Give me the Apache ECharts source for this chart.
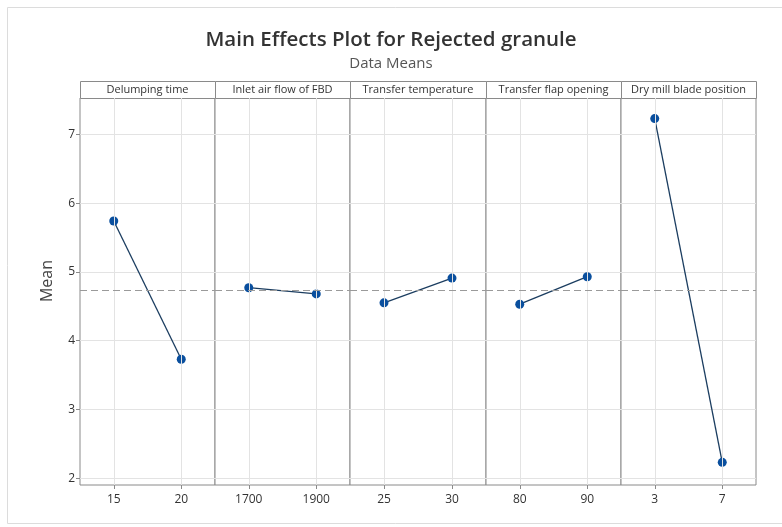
<!DOCTYPE html>
<html><head><meta charset="utf-8">
<script src="https://cdn.jsdelivr.net/npm/echarts@6/dist/echarts.min.js"></script>
<style>html,body{margin:0;padding:0;background:#fff}#c{width:782px;height:527px}</style>
</head><body><div id="c"></div>
<script>
// ---- data ----
const factorNames = ['Delumping time', 'Inlet air flow of FBD', 'Transfer temperature', 'Transfer flap opening', 'Dry mill blade position'];
const delumpingLevels = ['15', '20'];
const inletLevels = ['1700', '1900'];
const tempLevels = ['25', '30'];
const flapLevels = ['80', '90'];
const bladeLevels = ['3', '7'];
const delumpingMeans = [5.74, 3.73];
const inletMeans = [4.77, 4.68];
const tempMeans = [4.55, 4.91];
const flapMeans = [4.53, 4.93];
const bladeMeans = [7.23, 2.23];
const grandMean = 4.73;
const yTicks = [2, 3, 4, 5, 6, 7];

const levelsList = [delumpingLevels, inletLevels, tempLevels, flapLevels, bladeLevels];
const meansList = [delumpingMeans, inletMeans, tempMeans, flapMeans, bladeMeans];

// ---- layout ----
const plotLeft = 80, plotRight = 756, headerTop = 81, plotTop = 98, plotBottom = 485, H = 527;
const n = factorNames.length;
const pw = (plotRight - plotLeft) / n;
const frameColor = '#8a8a8a';
const gridColor = '#e3e3e3';
const font = 'Open Sans, Noto Sans, sans-serif';

const grids = [], xAxes = [], yAxes = [], series = [], graphics = [];

graphics.push({type: 'rect', silent: true, z: -10,
  shape: {x: 7.5, y: 7.5, width: 800, height: 516},
  style: {fill: '#fff', stroke: '#dcdcdc', lineWidth: 1}});

for (let i = 0; i < n; i++) {
  const left = Math.round(plotLeft + i * pw);
  const right = Math.round(plotLeft + (i + 1) * pw);
  grids.push({left: left, width: right - left, top: plotTop, bottom: H - plotBottom,
    show: true, borderColor: frameColor, borderWidth: 1, backgroundColor: '#fff'});
  xAxes.push({type: 'category', gridIndex: i, data: levelsList[i], boundaryGap: true,
    axisLine: {show: false},
    axisTick: {show: true, alignWithLabel: true, length: 4, lineStyle: {color: frameColor}},
    axisLabel: {color: '#333', fontSize: 12, fontFamily: font, margin: 9},
    splitLine: {show: false}});
  yAxes.push({type: 'value', gridIndex: i, min: 1.9, max: 7.53,
    axisLine: {show: false},
    axisTick: {show: i === 0, length: 4, customValues: yTicks, lineStyle: {color: frameColor}},
    axisLabel: {show: i === 0, customValues: yTicks, color: '#333', fontSize: 12, fontFamily: font, margin: 5},
    splitLine: {show: true, lineStyle: {color: gridColor, width: 1}}});
  // vertical gridlines and grand-mean line
  series.push({type: 'line', xAxisIndex: i, yAxisIndex: i, data: [], z: 1, silent: true,
    markLine: {silent: true, symbol: ['none', 'none'], label: {show: false}, animation: false,
      data: levelsList[i].map(l => ({xAxis: l, lineStyle: {color: gridColor, width: 1, type: 'solid'}})).concat([
        {yAxis: grandMean, lineStyle: {color: '#9a9a9a', width: 1.2, type: [7, 4]}}])}});
  series.push({type: 'line', xAxisIndex: i, yAxisIndex: i, data: meansList[i], z: 3,
    symbol: 'circle', symbolSize: 9, animation: false,
    itemStyle: {color: '#0a4f9e'},
    lineStyle: {color: '#1b3d60', width: 1.3}});
  // header strip
  graphics.push({type: 'rect', silent: true, z: 5,
    shape: {x: left + 0.5, y: headerTop + 0.5, width: right - left, height: plotTop - headerTop},
    style: {fill: '#fff', stroke: frameColor, lineWidth: 1}});
  graphics.push({type: 'text', silent: true, z: 6, x: (left + right) / 2, y: (headerTop + plotTop) / 2 + 0.5,
    style: {text: factorNames[i], fill: '#333', font: '11px ' + font, textAlign: 'center', textVerticalAlign: 'middle'}});
}

graphics.push({type: 'text', silent: true, x: 47, y: 281, rotation: Math.PI / 2,
  style: {text: 'Mean', fill: '#444', font: '16px ' + font, textAlign: 'center', textVerticalAlign: 'middle'}});

const chart = echarts.init(document.getElementById('c'), null, {renderer: 'canvas'});
chart.setOption({
  animation: false,
  backgroundColor: '#fff',
  title: {text: 'Main Effects Plot for Rejected granule', subtext: 'Data Means', left: 'center', top: 23, itemGap: 3,
    textStyle: {fontFamily: font, fontWeight: 600, fontSize: 20.5, color: '#333', lineHeight: 24},
    subtextStyle: {fontFamily: font, fontSize: 15, color: '#555', lineHeight: 18}},
  grid: grids, xAxis: xAxes, yAxis: yAxes, series: series, graphic: graphics
});
</script></body></html>
